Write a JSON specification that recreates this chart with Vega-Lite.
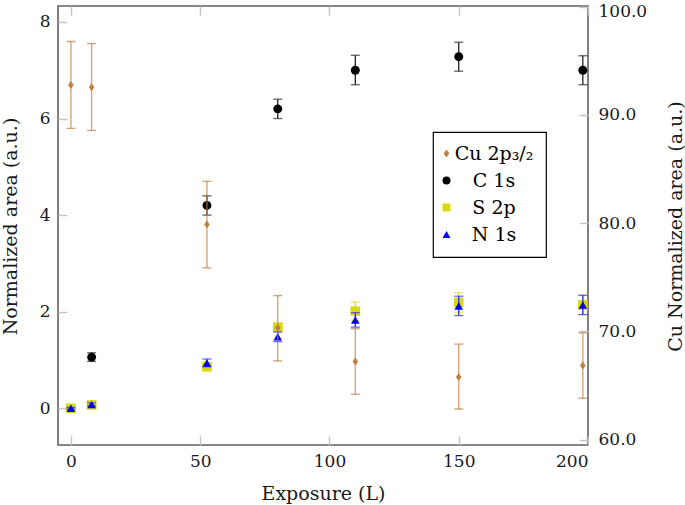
{
  "$schema": "https://vega.github.io/schema/vega-lite/v6.json",
  "width": 530,
  "height": 439,
  "autosize": {"type": "none"},
  "padding": {"left": 58, "top": 6, "right": 97, "bottom": 60},
  "background": "white",
  "config": {
    "view": {"stroke": "#606060", "strokeWidth": 1.6},
    "font": "DejaVu Serif",
    "axis": {
      "grid": false, "domain": false,
      "labelFont": "DejaVu Serif", "titleFont": "DejaVu Serif",
      "labelFontSize": 17, "titleFontSize": 19, "titleFontWeight": "normal",
      "labelColor": "#1a1a1a", "titleColor": "#1a1a1a",
      "tickColor": "#c4c4c4", "tickWidth": 1.5, "tickSize": -9
    },
    "legend": {
      "orient": "none", "legendX": 375, "legendY": 126,
      "strokeColor": "#000000", "strokeWidth": 1.2, "fillColor": "#ffffff",
      "padding": 12, "labelFont": "DejaVu Serif", "labelFontSize": 19, "labelColor": "#000000",
      "symbolSize": 64, "rowPadding": 7, "labelAlign": "center", "labelOffset": 38, "symbolOffset": -8,
      "symbolStrokeWidth": 0, "cornerRadius": 0
    }
  },
  "datasets": {
    "left": [
      {"x": 8, "series": "C 1s", "v": 1.06, "lo": 0.97, "hi": 1.15},
      {"x": 52.6, "series": "C 1s", "v": 4.2, "lo": 4.0, "hi": 4.4},
      {"x": 80, "series": "C 1s", "v": 6.2, "lo": 6.0, "hi": 6.4},
      {"x": 110, "series": "C 1s", "v": 7.0, "lo": 6.7, "hi": 7.31},
      {"x": 150, "series": "C 1s", "v": 7.28, "lo": 6.98, "hi": 7.58},
      {"x": 198, "series": "C 1s", "v": 7.0, "lo": 6.7, "hi": 7.3},
      {"x": 0, "series": "S 2p", "v": 0.0, "lo": -0.03, "hi": 0.03},
      {"x": 8, "series": "S 2p", "v": 0.07, "lo": 0.04, "hi": 0.1},
      {"x": 52.6, "series": "S 2p", "v": 0.86, "lo": 0.81, "hi": 0.91},
      {"x": 80, "series": "S 2p", "v": 1.68, "lo": 1.63, "hi": 1.73},
      {"x": 110, "series": "S 2p", "v": 2.01, "lo": 1.82, "hi": 2.2},
      {"x": 150, "series": "S 2p", "v": 2.19, "lo": 1.99, "hi": 2.39},
      {"x": 198, "series": "S 2p", "v": 2.14, "lo": 1.94, "hi": 2.34},
      {"x": 0, "series": "N 1s", "v": 0.0, "lo": -0.02, "hi": 0.02},
      {"x": 8, "series": "N 1s", "v": 0.08, "lo": 0.05, "hi": 0.11},
      {"x": 52.6, "series": "N 1s", "v": 0.94, "lo": 0.86, "hi": 1.02},
      {"x": 80, "series": "N 1s", "v": 1.48, "lo": 1.38, "hi": 1.58},
      {"x": 110, "series": "N 1s", "v": 1.83, "lo": 1.68, "hi": 1.98},
      {"x": 150, "series": "N 1s", "v": 2.12, "lo": 1.92, "hi": 2.32},
      {"x": 198, "series": "N 1s", "v": 2.14, "lo": 1.94, "hi": 2.34}
    ],
    "cu": [
      {"x": 0, "series": "Cu 2p₃/₂", "v": 92.77, "lo": 88.76, "hi": 96.79},
      {"x": 8, "series": "Cu 2p₃/₂", "v": 92.56, "lo": 88.57, "hi": 96.6},
      {"x": 52.6, "series": "Cu 2p₃/₂", "v": 79.89, "lo": 75.88, "hi": 83.87},
      {"x": 80, "series": "Cu 2p₃/₂", "v": 70.34, "lo": 67.28, "hi": 73.31},
      {"x": 110, "series": "Cu 2p₃/₂", "v": 67.23, "lo": 64.2, "hi": 70.25},
      {"x": 150, "series": "Cu 2p₃/₂", "v": 65.8, "lo": 62.84, "hi": 68.83},
      {"x": 198, "series": "Cu 2p₃/₂", "v": 66.86, "lo": 63.83, "hi": 69.88}
    ]
  },
  "layer": [
    {
      "data": {"name": "left"},
      "encoding": {
        "x": {"field": "x", "type": "quantitative",
          "scale": {"domain": [-5, 200], "nice": false, "zero": false},
          "axis": {"orient": "bottom", "values": [0, 50, 100, 150, 200], "labelPadding": 17,
            "title": "Exposure (L)", "titleX": 265, "titleY": 48, "titleBaseline": "middle", "titleAlign": "center"}}
      },
      "layer": [
        {"transform": [{"filter": "datum.series === 'C 1s'"}],
         "mark": {"type": "rule", "color": "#222222", "strokeWidth": 1.3},
         "encoding": {"y": {"field": "lo", "type": "quantitative",
            "scale": {"domain": [-0.76, 8.33], "nice": false, "zero": false},
            "axis": {"orient": "left", "values": [0, 2, 4, 6, 8], "format": "d", "labelPadding": 17,
              "title": "Normalized area (a.u.)", "titleX": -48, "titleY": 220, "titleAngle": 270,
              "titleAlign": "center", "titleBaseline": "middle"}},
           "y2": {"field": "hi"}}},
        {"transform": [{"filter": "datum.series === 'C 1s'"}],
         "mark": {"type": "tick", "orient": "horizontal", "color": "#222222", "size": 9, "thickness": 1.3},
         "encoding": {"y": {"field": "lo", "type": "quantitative", "scale": {"domain": [-0.76, 8.33], "nice": false, "zero": false},
            "axis": {"orient": "left", "values": [0, 2, 4, 6, 8], "format": "d", "labelPadding": 17,
              "title": "Normalized area (a.u.)", "titleX": -48, "titleY": 220, "titleAngle": 270,
              "titleAlign": "center", "titleBaseline": "middle"}}}},
        {"transform": [{"filter": "datum.series === 'C 1s'"}],
         "mark": {"type": "tick", "orient": "horizontal", "color": "#222222", "size": 9, "thickness": 1.3},
         "encoding": {"y": {"field": "hi", "type": "quantitative", "scale": {"domain": [-0.76, 8.33], "nice": false, "zero": false},
            "axis": {"orient": "left", "values": [0, 2, 4, 6, 8], "format": "d", "labelPadding": 17,
              "title": "Normalized area (a.u.)", "titleX": -48, "titleY": 220, "titleAngle": 270,
              "titleAlign": "center", "titleBaseline": "middle"}}}},
        {"transform": [{"filter": "datum.series === 'C 1s'"}],
         "mark": {"type": "point", "filled": true, "opacity": 1, "size": 80},
         "encoding": {"y": {"field": "v", "type": "quantitative", "scale": {"domain": [-0.76, 8.33], "nice": false, "zero": false},
            "axis": {"orient": "left", "values": [0, 2, 4, 6, 8], "format": "d", "labelPadding": 17,
              "title": "Normalized area (a.u.)", "titleX": -48, "titleY": 220, "titleAngle": 270,
              "titleAlign": "center", "titleBaseline": "middle"}},
           "color": {"field": "series", "type": "nominal", "title": null,
             "scale": {"domain": ["Cu 2p₃/₂", "C 1s", "S 2p", "N 1s"], "range": ["#bf8040", "#000000", "#d9d90f", "#0000ff"]}},
           "shape": {"field": "series", "type": "nominal", "title": null,
             "scale": {"domain": ["Cu 2p₃/₂", "C 1s", "S 2p", "N 1s"], "range": ["M0,-1L0.7,0L0,1L-0.7,0Z", "circle", "square", "triangle-up"]}}}},
        {"transform": [{"filter": "datum.series === 'S 2p'"}],
         "mark": {"type": "rule", "color": "#e0e020", "strokeWidth": 1.3},
         "encoding": {"y": {"field": "lo", "type": "quantitative", "scale": {"domain": [-0.76, 8.33], "nice": false, "zero": false},
            "axis": {"orient": "left", "values": [0, 2, 4, 6, 8], "format": "d", "labelPadding": 17,
              "title": "Normalized area (a.u.)", "titleX": -48, "titleY": 220, "titleAngle": 270,
              "titleAlign": "center", "titleBaseline": "middle"}}, "y2": {"field": "hi"}}},
        {"transform": [{"filter": "datum.series === 'S 2p'"}],
         "mark": {"type": "tick", "orient": "horizontal", "color": "#e0e020", "size": 9, "thickness": 1.3},
         "encoding": {"y": {"field": "lo", "type": "quantitative", "scale": {"domain": [-0.76, 8.33], "nice": false, "zero": false},
            "axis": {"orient": "left", "values": [0, 2, 4, 6, 8], "format": "d", "labelPadding": 17,
              "title": "Normalized area (a.u.)", "titleX": -48, "titleY": 220, "titleAngle": 270,
              "titleAlign": "center", "titleBaseline": "middle"}}}},
        {"transform": [{"filter": "datum.series === 'S 2p'"}],
         "mark": {"type": "tick", "orient": "horizontal", "color": "#e0e020", "size": 9, "thickness": 1.3},
         "encoding": {"y": {"field": "hi", "type": "quantitative", "scale": {"domain": [-0.76, 8.33], "nice": false, "zero": false},
            "axis": {"orient": "left", "values": [0, 2, 4, 6, 8], "format": "d", "labelPadding": 17,
              "title": "Normalized area (a.u.)", "titleX": -48, "titleY": 220, "titleAngle": 270,
              "titleAlign": "center", "titleBaseline": "middle"}}}},
        {"transform": [{"filter": "datum.series === 'S 2p'"}],
         "mark": {"type": "point", "filled": true, "opacity": 1, "size": 95},
         "encoding": {"y": {"field": "v", "type": "quantitative", "scale": {"domain": [-0.76, 8.33], "nice": false, "zero": false},
            "axis": {"orient": "left", "values": [0, 2, 4, 6, 8], "format": "d", "labelPadding": 17,
              "title": "Normalized area (a.u.)", "titleX": -48, "titleY": 220, "titleAngle": 270,
              "titleAlign": "center", "titleBaseline": "middle"}},
           "color": {"field": "series", "type": "nominal", "title": null,
             "scale": {"domain": ["Cu 2p₃/₂", "C 1s", "S 2p", "N 1s"], "range": ["#bf8040", "#000000", "#d9d90f", "#0000ff"]}},
           "shape": {"field": "series", "type": "nominal", "title": null,
             "scale": {"domain": ["Cu 2p₃/₂", "C 1s", "S 2p", "N 1s"], "range": ["M0,-1L0.7,0L0,1L-0.7,0Z", "circle", "square", "triangle-up"]}}}},
        {"transform": [{"filter": "datum.series === 'N 1s'"}],
         "mark": {"type": "rule", "color": "#2a2aff", "strokeWidth": 1.3},
         "encoding": {"y": {"field": "lo", "type": "quantitative", "scale": {"domain": [-0.76, 8.33], "nice": false, "zero": false},
            "axis": {"orient": "left", "values": [0, 2, 4, 6, 8], "format": "d", "labelPadding": 17,
              "title": "Normalized area (a.u.)", "titleX": -48, "titleY": 220, "titleAngle": 270,
              "titleAlign": "center", "titleBaseline": "middle"}}, "y2": {"field": "hi"}}},
        {"transform": [{"filter": "datum.series === 'N 1s'"}],
         "mark": {"type": "tick", "orient": "horizontal", "color": "#2a2aff", "size": 9, "thickness": 1.3},
         "encoding": {"y": {"field": "lo", "type": "quantitative", "scale": {"domain": [-0.76, 8.33], "nice": false, "zero": false},
            "axis": {"orient": "left", "values": [0, 2, 4, 6, 8], "format": "d", "labelPadding": 17,
              "title": "Normalized area (a.u.)", "titleX": -48, "titleY": 220, "titleAngle": 270,
              "titleAlign": "center", "titleBaseline": "middle"}}}},
        {"transform": [{"filter": "datum.series === 'N 1s'"}],
         "mark": {"type": "tick", "orient": "horizontal", "color": "#2a2aff", "size": 9, "thickness": 1.3},
         "encoding": {"y": {"field": "hi", "type": "quantitative", "scale": {"domain": [-0.76, 8.33], "nice": false, "zero": false},
            "axis": {"orient": "left", "values": [0, 2, 4, 6, 8], "format": "d", "labelPadding": 17,
              "title": "Normalized area (a.u.)", "titleX": -48, "titleY": 220, "titleAngle": 270,
              "titleAlign": "center", "titleBaseline": "middle"}}}},
        {"transform": [{"filter": "datum.series === 'N 1s'"}],
         "mark": {"type": "point", "filled": true, "opacity": 1, "size": 75},
         "encoding": {"y": {"field": "v", "type": "quantitative", "scale": {"domain": [-0.76, 8.33], "nice": false, "zero": false},
            "axis": {"orient": "left", "values": [0, 2, 4, 6, 8], "format": "d", "labelPadding": 17,
              "title": "Normalized area (a.u.)", "titleX": -48, "titleY": 220, "titleAngle": 270,
              "titleAlign": "center", "titleBaseline": "middle"}},
           "color": {"field": "series", "type": "nominal", "title": null,
             "scale": {"domain": ["Cu 2p₃/₂", "C 1s", "S 2p", "N 1s"], "range": ["#bf8040", "#000000", "#d9d90f", "#0000ff"]}},
           "shape": {"field": "series", "type": "nominal", "title": null,
             "scale": {"domain": ["Cu 2p₃/₂", "C 1s", "S 2p", "N 1s"], "range": ["M0,-1L0.7,0L0,1L-0.7,0Z", "circle", "square", "triangle-up"]}}}}
      ]
    },
    {
      "data": {"name": "cu"},
      "encoding": {
        "x": {"field": "x", "type": "quantitative",
          "scale": {"domain": [-5, 200], "nice": false, "zero": false},
          "axis": {"orient": "top", "values": [0, 50, 100, 150, 200], "labels": false, "title": null}}
      },
      "layer": [
        {"mark": {"type": "rule", "color": "#bf8040", "opacity": 0.7, "strokeWidth": 1.4},
         "encoding": {"y": {"field": "lo", "type": "quantitative",
            "scale": {"domain": [59.51, 100.07], "nice": false, "zero": false},
            "axis": {"orient": "right", "values": [60, 70, 80, 90, 100], "format": ".1f", "labelPadding": 19,
              "labelFlush": 3, "labelFlushOffset": 3,
              "title": "Cu Normalized area (a.u.)", "titleX": 87, "titleY": 220, "titleAngle": 270,
              "titleAlign": "center", "titleBaseline": "middle"}},
           "y2": {"field": "hi"}}},
        {"mark": {"type": "tick", "orient": "horizontal", "color": "#bf8040", "opacity": 0.7, "size": 9, "thickness": 1.4},
         "encoding": {"y": {"field": "lo", "type": "quantitative", "scale": {"domain": [59.51, 100.07], "nice": false, "zero": false},
            "axis": {"orient": "right", "values": [60, 70, 80, 90, 100], "format": ".1f", "labelPadding": 19,
              "labelFlush": 3, "labelFlushOffset": 3,
              "title": "Cu Normalized area (a.u.)", "titleX": 87, "titleY": 220, "titleAngle": 270,
              "titleAlign": "center", "titleBaseline": "middle"}}}},
        {"mark": {"type": "tick", "orient": "horizontal", "color": "#bf8040", "opacity": 0.7, "size": 9, "thickness": 1.4},
         "encoding": {"y": {"field": "hi", "type": "quantitative", "scale": {"domain": [59.51, 100.07], "nice": false, "zero": false},
            "axis": {"orient": "right", "values": [60, 70, 80, 90, 100], "format": ".1f", "labelPadding": 19,
              "labelFlush": 3, "labelFlushOffset": 3,
              "title": "Cu Normalized area (a.u.)", "titleX": 87, "titleY": 220, "titleAngle": 270,
              "titleAlign": "center", "titleBaseline": "middle"}}}},
        {"mark": {"type": "point", "filled": true, "opacity": 1, "size": 64},
         "encoding": {"y": {"field": "v", "type": "quantitative", "scale": {"domain": [59.51, 100.07], "nice": false, "zero": false},
            "axis": {"orient": "right", "values": [60, 70, 80, 90, 100], "format": ".1f", "labelPadding": 19,
              "labelFlush": 3, "labelFlushOffset": 3,
              "title": "Cu Normalized area (a.u.)", "titleX": 87, "titleY": 220, "titleAngle": 270,
              "titleAlign": "center", "titleBaseline": "middle"}},
           "color": {"field": "series", "type": "nominal", "title": null,
             "scale": {"domain": ["Cu 2p₃/₂", "C 1s", "S 2p", "N 1s"], "range": ["#bf8040", "#000000", "#d9d90f", "#0000ff"]}},
           "shape": {"field": "series", "type": "nominal", "title": null,
             "scale": {"domain": ["Cu 2p₃/₂", "C 1s", "S 2p", "N 1s"], "range": ["M0,-1L0.7,0L0,1L-0.7,0Z", "circle", "square", "triangle-up"]}}}}
      ]
    }
  ],
  "resolve": {"scale": {"y": "independent"}, "axis": {"x": "independent"}}
}
